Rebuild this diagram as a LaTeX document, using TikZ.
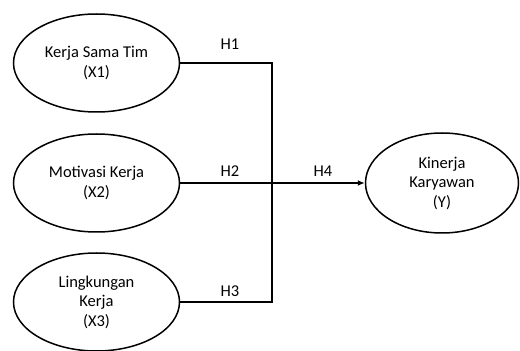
\documentclass[tikz,border=0pt]{standalone}
\usepackage{fontspec}
\setmainfont{Carlito}
\usetikzlibrary{shapes.geometric,arrows.meta}
\begin{document}
\begin{tikzpicture}[x=1pt,y=1pt,
  var/.style={ellipse,draw,line width=1.5pt,inner sep=0pt,minimum width=166pt,minimum height=98pt,align=center,font=\fontsize{16.5}{19.5}\selectfont},
  lab/.style={font=\fontsize{16.5}{19.5}\selectfont,inner sep=0pt},
  conn/.style={line width=1.5pt}]
\useasboundingbox (0,0) rectangle (520,351);
\node[var] (x1) at (96.5,288) {Kerja Sama Tim\\(X1)};
\node[var] (x2) at (96.5,168) {Motivasi Kerja\\(X2)};
\node[var] (x3) at (96.5,49) {Lingkungan\\Kerja\\(X3)};
\node[var,minimum width=153pt,minimum height=100pt] (y) at (442,168) {Kinerja\\Karyawan\\(Y)};
\coordinate (jt) at (272,288);
\coordinate (jb) at (272,49);
\draw[conn] (x1.east) -- (jt) -- (jb) -- (x3.east);
\draw[conn,-{Latex[length=7pt,width=6pt]}] (x2.east) -- (y.west);
\node[lab] (h1) at (230,307) {H1};
\node[lab] (h2) at (230,180) {H2};
\node[lab] (h3) at (230,60) {H3};
\node[lab] (h4) at (323,180) {H4};
\end{tikzpicture}
\end{document}
